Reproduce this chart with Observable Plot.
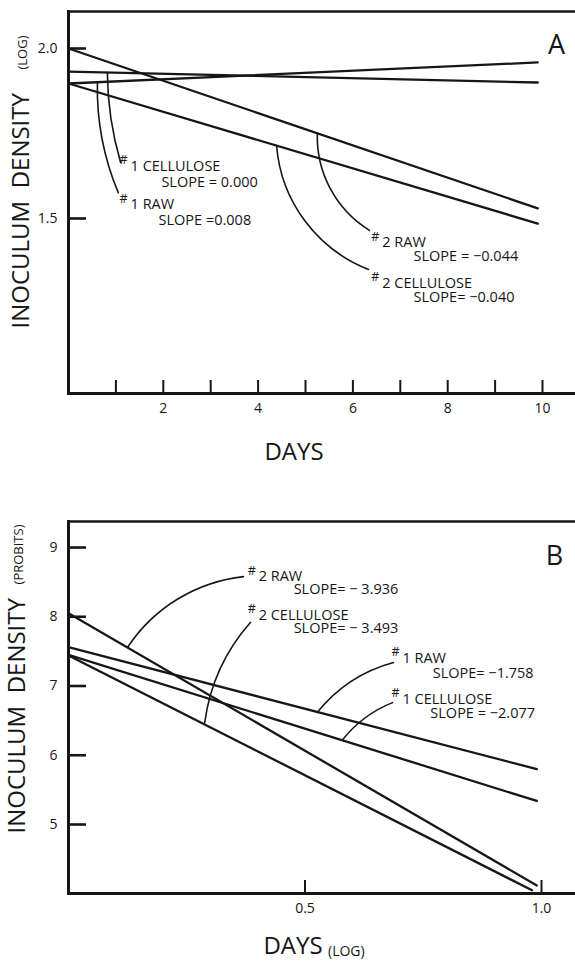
<!DOCTYPE html>
<html>
<head>
<meta charset="utf-8">
<script src="https://cdn.jsdelivr.net/npm/d3@7"></script>
<script src="https://cdn.jsdelivr.net/npm/@observablehq/plot@0.6"></script>
<style>
  html, body { margin: 0; padding: 0; background: #fff; }
  #chart { width: 575px; height: 962px; overflow: hidden; }
  #chart svg { display: block; }
</style>
</head>
<body>
<div id="chart"></div>
<script>
// ---------- shared ----------
const series = ["#1 CELLULOSE", "#1 RAW", "#2 RAW", "#2 CELLULOSE"];

// ---------- Panel A: days vs inoculum density (log) ----------
const aX0 = [0, 0, 0, 0];
const aY0 = [1.932, 1.897, 2.0, 1.897];
const aX1 = [9.9, 9.9, 9.9, 9.9];
const aY1 = [1.900, 1.959, 1.530, 1.485];
const aSlopes = ["SLOPE = 0.000", "SLOPE =0.008", "SLOPE = \u22120.044", "SLOPE= \u22120.040"];
// label anchors (data coordinates)
const aLabelX = [1.31, 1.31, 6.62, 6.62];
const aLabelY = [1.653, 1.541, 1.429, 1.309];
const aSlopeX = [1.96, 1.90, 7.28, 7.28];
const aSlopeY = [1.606, 1.494, 1.388, 1.268];
// leader lines: from the line to the label
const aLeadX1 = [0.82, 0.61, 5.25, 4.39];
const aLeadY1 = [1.929, 1.901, 1.750, 1.714];
const aLeadX2 = [1.10, 1.05, 6.35, 6.33];
const aLeadY2 = [1.665, 1.576, 1.465, 1.350];
const aXTicks = [1, 2, 3, 4, 5, 6, 7, 8, 9, 10];
const aXTickLabels = [2, 4, 6, 8, 10];
const aYTicks = [1.5, 2.0];

// ---------- Panel B: log days vs inoculum density (probits) ----------
const bX0 = [0, 0, 0, 0];
const bY0 = [7.45, 7.56, 8.05, 7.44];
const bX1 = [0.99, 0.99, 0.99, 0.98];
const bY1 = [5.34, 5.80, 4.12, 4.05];
const bSlopes = ["SLOPE = \u22122.077", "SLOPE= \u22121.758", "SLOPE= \u2212 3.936", "SLOPE= \u2212 3.493"];
const bLabelX = [0.706, 0.706, 0.402, 0.402];
const bLabelY = [6.81, 7.40, 8.58, 8.02];
const bSlopeX = [0.765, 0.770, 0.476, 0.476];
const bSlopeY = [6.60, 7.18, 8.39, 7.83];
const bLeadX1 = [0.579, 0.526, 0.125, 0.288];
const bLeadY1 = [6.22, 6.62, 7.56, 6.47];
const bLeadX2 = [0.685, 0.687, 0.37, 0.385];
const bLeadY2 = [6.76, 7.34, 8.58, 7.92];
const bXTicks = [0.5, 1.0];
const bYTicks = [5, 6, 7, 8, 9];

const INK = "#161616";
const FONT = "'Open Sans', 'DejaVu Sans', sans-serif";

function buildRows(x0, y0, x1, y1) {
  const rows = [];
  series.forEach((s, i) => {
    rows.push({ s, x: x0[i], y: y0[i] });
    rows.push({ s, x: x1[i], y: y1[i] });
  });
  return rows;
}

function panel(cfg) {
  const W = 575;
  const plotW = W - cfg.marginLeft;
  const plotH = cfg.height - cfg.marginTop - cfg.marginBottom;
  const lines = buildRows(cfg.x0, cfg.y0, cfg.x1, cfg.y1);
  const labels = series.map((s, i) => ({
    main: s.slice(1), x: cfg.labelX[i], y: cfg.labelY[i],
    slope: cfg.slopes[i], sx: cfg.slopeX[i], sy: cfg.slopeY[i]
  }));
  const leaders = series.map((s, i) => ({
    x1: cfg.leadX1[i], y1: cfg.leadY1[i], x2: cfg.leadX2[i], y2: cfg.leadY2[i]
  }));
  const leaderMarks = leaders.map((d, i) =>
    Plot.arrow([d], { x1: "x1", y1: "y1", x2: "x2", y2: "y2", bend: cfg.bends[i],
      headLength: 0, stroke: INK, strokeWidth: 1.6 }));

  return Plot.plot({
    width: W,
    height: cfg.height,
    marginLeft: cfg.marginLeft,
    marginRight: 0,
    marginTop: cfg.marginTop,
    marginBottom: cfg.marginBottom,
    style: { fontFamily: FONT, color: INK, background: "#fff", overflow: "visible" },
    x: { type: "linear", domain: cfg.xDomain, range: cfg.xRange, axis: null },
    y: { type: "linear", domain: cfg.yDomain, range: cfg.yRange, axis: null },
    marks: [
      // frame: left, top, bottom
      Plot.frame({ anchor: "left", stroke: INK, strokeWidth: 3 }),
      Plot.frame({ anchor: "top", stroke: INK, strokeWidth: 2.5 }),
      Plot.frame({ anchor: "bottom", stroke: INK, strokeWidth: 3 }),
      // inward ticks
      Plot.tickY(cfg.yTicks, { y: d => d, insetRight: plotW - 18, stroke: INK, strokeWidth: 2.6 }),
      Plot.tickX(cfg.xTicks, { x: d => d, insetTop: plotH - 13, stroke: INK, strokeWidth: 2 }),
      // tick labels
      Plot.axisY(cfg.yTicks, { tickSize: 0, tickPadding: 11, fontSize: 14, tickFormat: cfg.yFormat, label: null }),
      Plot.axisX(cfg.xTickLabels, { tickSize: 0, tickPadding: 10, fontSize: 14, tickFormat: cfg.xFormat, label: null }),
      // data lines
      Plot.line(lines, { x: "x", y: "y", z: "s", stroke: INK, strokeWidth: 2.3 }),
      ...leaderMarks,
      // labels
      Plot.text(labels, { x: "x", y: "y", text: () => "#", dx: -11, dy: -6, fontSize: 12.5, textAnchor: "start", fill: INK }),
      Plot.text(labels, { x: "x", y: "y", text: "main", fontSize: 14.5, textAnchor: "start", fill: INK }),
      Plot.text(labels, { x: "sx", y: "sy", text: "slope", fontSize: 14.5, textAnchor: "start", fill: INK }),
      // panel letter
      Plot.text([cfg.letter], { frameAnchor: "top-right", dx: cfg.letterDx, dy: cfg.letterDy, fontSize: 27, textAnchor: "middle", fill: INK }),
      // y title
      Plot.text(["INOCULUM  DENSITY"], { frameAnchor: "bottom-left", rotate: -90, textAnchor: "start",
        dx: cfg.yTitleDx, dy: cfg.yTitleDy, fontSize: 24, fill: INK }),
      Plot.text([cfg.yUnit], { frameAnchor: "top-left", rotate: -90, textAnchor: "end",
        dx: cfg.yUnitDx, dy: cfg.yUnitDy, fontSize: 13, fill: INK }),
      // x title
      Plot.text(["DAYS"], { frameAnchor: "bottom", dx: cfg.xTitleDx, dy: cfg.xTitleDy, fontSize: 24, fill: INK }),
      ...(cfg.xUnit ? [Plot.text([cfg.xUnit], { frameAnchor: "bottom", textAnchor: "start", dx: cfg.xUnitDx, dy: cfg.xTitleDy + 2, fontSize: 14, fill: INK })] : [])
    ]
  });
}

const chartA = panel({
  height: 480, marginLeft: 68, marginTop: 11, marginBottom: 87,
  xDomain: [0, 10], xRange: [68, 542], yDomain: [1.5, 2.0], yRange: [218, 48],
  x0: aX0, y0: aY0, x1: aX1, y1: aY1, slopes: aSlopes,
  labelX: aLabelX, labelY: aLabelY, slopeX: aSlopeX, slopeY: aSlopeY,
  leadX1: aLeadX1, leadY1: aLeadY1, leadX2: aLeadX2, leadY2: aLeadY2,
  bends: [-8, -12, -30, -32],
  xTicks: aXTicks, xTickLabels: aXTickLabels, yTicks: aYTicks,
  xFormat: d3.format("d"), yFormat: d3.format(".1f"),
  letter: "A", letterDx: -19, letterDy: 23,
  yTitleDx: -40, yTitleDy: -65, yUnit: "(LOG)", yUnitDx: -51, yUnitDy: 24,
  xTitleDx: -28, xTitleDy: 66, xUnit: null
});

const chartB = panel({
  height: 482, marginLeft: 68, marginTop: 41, marginBottom: 69,
  xDomain: [0, 1], xRange: [68, 541], yDomain: [5, 9], yRange: [344, 67],
  x0: bX0, y0: bY0, x1: bX1, y1: bY1, slopes: bSlopes,
  labelX: bLabelX, labelY: bLabelY, slopeX: bSlopeX, slopeY: bSlopeY,
  leadX1: bLeadX1, leadY1: bLeadY1, leadX2: bLeadX2, leadY2: bLeadY2,
  bends: [15, 18, 25, 17],
  xTicks: bXTicks, xTickLabels: bXTicks, yTicks: bYTicks,
  xFormat: d3.format(".1f"), yFormat: d3.format("d"),
  letter: "B", letterDx: -21, letterDy: 24,
  yTitleDx: -44, yTitleDy: -60, yUnit: "(PROBITS)", yUnitDx: -55, yUnitDy: 3,
  xTitleDx: -29, xTitleDy: 60, xUnit: "(LOG)", xUnitDx: 6
});

const root = document.getElementById("chart");
root.appendChild(chartA);
root.appendChild(chartB);
</script>
</body>
</html>
